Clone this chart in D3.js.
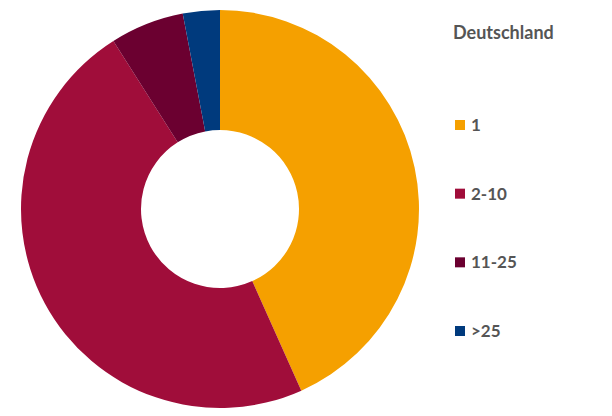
<!DOCTYPE html>
<html>
<head>
<meta charset="utf-8">
<script src="https://cdn.jsdelivr.net/npm/d3@7"></script>
<style>
  body { margin: 0; background: #fff; }
  text { font-family: Lato, sans-serif; font-weight: bold; fill: #555; }
</style>
</head>
<body>
<div id="chart"></div>
<script>
var categories = ["1", "2-10", "11-25", ">25"];
var values = [43.3, 47.7, 6.0, 3.0];
var colors = ["#F5A000", "#A00D3A", "#6B0030", "#003A7D"];
var title = "Deutschland";

const width = 612;
const height = 416;

const svg = d3.select("#chart")
  .append("svg")
  .attr("width", width)
  .attr("height", height);

const pie = d3.pie().sort(null).value(function (d) { return d; });
const arc = d3.arc().innerRadius(79).outerRadius(199);

const g = svg.append("g").attr("transform", "translate(220,209)");

g.selectAll("path")
  .data(pie(values))
  .enter()
  .append("path")
  .attr("d", arc)
  .attr("fill", function (d, i) { return colors[i]; });

svg.append("text")
  .attr("x", 453)
  .attr("y", 39)
  .attr("font-size", 18)
  .text(title);

const legendY = d3.scalePoint().domain(categories).range([125, 331]);

const items = svg.selectAll(".legend")
  .data(categories)
  .enter()
  .append("g")
  .attr("class", "legend")
  .attr("transform", function (d) { return "translate(455," + legendY(d) + ")"; });

items.append("rect")
  .attr("x", 0).attr("y", -5)
  .attr("width", 10).attr("height", 10)
  .attr("fill", function (d, i) { return colors[i]; });

items.append("text")
  .attr("x", 16)
  .attr("y", 6)
  .attr("font-size", 17)
  .text(function (d) { return d; });
</script>
</body>
</html>
